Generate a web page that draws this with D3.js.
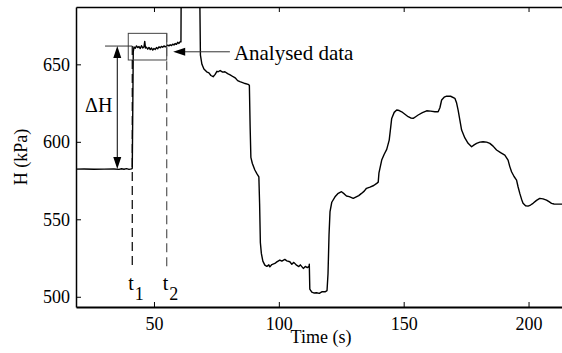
<!DOCTYPE html>
<html>
<head>
<meta charset="utf-8">
<script src="https://cdn.jsdelivr.net/npm/d3@7"></script>
<style>
  body { margin: 0; background: #fff; }
  svg, svg text { font-family: "Liberation Serif", "Times New Roman", serif; }
</style>
</head>
<body>
<svg id="chart"></svg>
<script>
const time = [18.8, 22, 26, 30, 34, 36, 37, 38, 39, 40, 41.0, 41.3, 41.5, 41.7,
  42.0, 42.5, 43.0, 43.5, 44.0, 44.5, 45.0, 45.5, 46.0, 46.3, 46.6, 47.0, 47.5, 48.0, 48.5, 49.0, 49.5,
  50.0, 50.5, 51.0, 51.5, 52.0, 52.5, 53.0, 53.5, 54.0, 54.5, 55.0, 55.5, 56.0, 56.5, 57.0, 57.5,
  58.0, 58.5, 59.0, 59.5, 60.0, 60.5, 60.8, 60.9, 61.5, 67.5, 68.3, 68.6, 69.2, 70.0,
  71.1, 72.0, 72.8, 73.7, 74.5, 75.2, 75.7, 76.5, 77.5, 78.4, 79.5, 80.5, 81.7, 82.5, 83.5, 84.4,
  85.5, 86.5, 87.7, 88.2, 88.5, 88.8, 89.4, 90.4, 91.2, 92.0, 92.3, 92.6, 93.0, 93.6, 94.4, 95.2,
  96.0, 96.4, 97.2, 98.4, 99.2, 100.4, 101.2, 102.4, 103.2, 104.4, 105.2, 106.0, 107.1, 108.0,
  108.6, 109.8, 110.6, 111.4, 112.1, 112.2, 112.4, 113.2, 114.2, 115.1, 116.2, 117.2, 118.5,
  119.3, 119.7, 120.1, 120.5, 121.2, 122.5, 123.6, 125.1, 126.2, 127.1, 128.2, 129.8, 131.0,
  132.0, 133.1, 134.2, 135.1, 136.5, 138.0, 139.2, 139.8, 140.1, 141.2, 142.2, 143.2, 144.2,
  144.7, 145.2, 146.2, 147.2, 148.2, 149.2, 150.5, 151.8, 152.8, 153.8, 154.8, 155.8, 157.5,
  159.2, 160.8, 162.5, 163.8, 164.5, 165.2, 166.2, 167.2, 168.8, 170.5, 171.2, 171.8, 172.5,
  173.2, 174.5, 175.8, 177.2, 178.2, 179.2, 180.5, 181.8, 183.2, 184.5, 185.8, 187.2, 188.8,
  190.5, 191.8, 192.5, 193.2, 194.2, 195.2, 195.8, 196.5, 197.2, 197.8, 198.8, 199.8, 200.8,
  201.8, 203.2, 204.5, 205.8, 207.2, 208.2, 209.2, 210.2, 211.2, 213.4]
const pressure = [582.4, 582.5, 582.3, 582.4, 582.5, 582.2, 582.6, 582.3, 582.7, 582.2, 582.5, 583, 620, 658,
  661.2, 660.4, 661.9, 660.8, 661.5, 660.2, 662.0, 660.6, 661.3, 664.8, 660.5, 661.0, 659.8, 660.9, 659.5, 660.5, 659.2,
  660.2, 659.6, 660.8, 660.1, 661.3, 660.7, 661.6, 661.0, 661.9, 661.3, 661.8, 662.4, 661.9, 662.6, 662.1, 663.0,
  662.5, 663.4, 662.9, 664.2, 663.5, 664.6, 664.5, 700, 720, 720, 700, 656, 650, 647,
  645.2, 644.5, 642.8, 642.0, 643.5, 645.5, 645.2, 646.0, 645.0, 645.2, 644.0, 643.2, 642.0, 641.3, 639.5, 638.8,
  638.2, 637.6, 637.1, 636.5, 610, 590, 586, 581.8, 579.5, 577.4, 560, 535, 528, 523, 520.4, 519.6,
  520.6, 519.3, 520.8, 521.5, 522.5, 523.7, 523.0, 524.1, 523.2, 522.6, 521.0, 522.2, 520.4, 519.5,
  520.6, 518.3, 519.6, 518.8, 519.6, 521, 505, 503.0, 502.4, 502.6, 502.2, 503.2, 503.2,
  504, 515, 540, 555, 561, 564.5, 566.5, 567.8, 566.4, 565.0, 564.6, 563.5, 564.5,
  565.3, 566.7, 568.2, 570.0, 570.8, 571.8, 573.2, 574, 580, 588.2, 592, 595.1, 601.1,
  608, 615.1, 619, 620.5, 620.2, 619.4, 617.8, 616.2, 615.4, 615.1, 616.2, 617.3, 618.8,
  620.0, 619.8, 619.4, 619.4, 622, 627.0, 628.8, 629.5, 629.4, 628.1, 625, 620.5, 614,
  607.6, 602.5, 599.0, 596.8, 598, 599.0, 599.8, 600.0, 599.8, 599.0, 597.2, 594.7, 593,
  591.4, 588.2, 584, 580.7, 577.6, 575.3, 571, 566.7, 563, 560.3, 558.7, 558.5, 559.2,
  560.3, 562.2, 563.5, 563.2, 562.4, 561.4, 560.3, 559.9, 559.8, 559.8]

const xTicks = [50, 100, 150, 200]
const yTicks = [500, 550, 600, 650]

// Annotation values in data units
const boxTime = [39.7, 55.1]
const boxH = [652.8, 670]
const markTimes = [41.3, 55.1]
const markLabels = ["1", "2"]
const deltaTime = 35.3
const deltaH = [582.4, 661.8]
const refLineTime = [30.4, 41.3]
const arrowTime = [57.7, 80.4]
const arrowH = 658.1

const width = 562
const height = 353
const serif = "'Liberation Serif', 'Times New Roman', serif"

const svg = d3.select("#chart")
  .attr("width", width)
  .attr("height", height)

const x = d3.scaleLinear()
  .domain([18.77, 213.4])
  .range([76, 562])

const y = d3.scaleLinear()
  .domain([493.4, 687])
  .range([307, 7])

// Clip the trace to the plot area (spike goes off scale)
svg.append("clipPath")
  .attr("id", "plot-clip")
  .append("rect")
  .attr("x", 76).attr("y", 7)
  .attr("width", 562 - 76).attr("height", 300)

const data = time.map((t, i) => [t, pressure[i]])

svg.append("path")
  .datum(data)
  .attr("clip-path", "url(#plot-clip)")
  .attr("fill", "none")
  .attr("stroke", "#000")
  .attr("stroke-width", 1.4)
  .attr("stroke-linejoin", "round")
  .attr("d", d3.line().x(d => x(d[0])).y(d => y(d[1])))

// Axes
const styleAxis = (g, w) => {
  g.attr("font-family", null).attr("font-size", null)
  g.select(".domain").attr("stroke", "#000").attr("stroke-width", w)
  g.selectAll(".tick line").attr("stroke", "#000")
  g.selectAll(".tick text")
    .attr("fill", "#000")
    .style("font-size", "18px")
    .style("font-family", serif)
}

svg.append("g")
  .attr("transform", "translate(0, 307)")
  .call(d3.axisBottom(x).tickValues(xTicks).tickSizeInner(-5).tickSizeOuter(0).tickPadding(10))
  .call(g => styleAxis(g, 2.2))

svg.append("g")
  .attr("transform", "translate(0, 7)")
  .call(d3.axisTop(x).tickValues(xTicks).tickSizeInner(-5).tickSizeOuter(0).tickFormat(""))
  .call(g => styleAxis(g, 1.5))

svg.append("g")
  .attr("transform", "translate(76, 0)")
  .call(d3.axisLeft(y).tickValues(yTicks).tickSizeInner(-5).tickSizeOuter(0).tickPadding(6))
  .call(g => styleAxis(g, 1.5))

// Axis titles
svg.append("text")
  .attr("x", 321)
  .attr("y", 343)
  .attr("text-anchor", "middle")
  .style("font-size", "18px")
  .style("font-family", serif)
  .text("Time (s)")

svg.append("text")
  .attr("transform", "translate(27, 157) rotate(-90)")
  .attr("text-anchor", "middle")
  .style("font-size", "18px")
  .style("font-family", serif)
  .text("H (kPa)")

// Analysed data window
svg.append("rect")
  .attr("x", x(boxTime[0]))
  .attr("y", y(boxH[1]))
  .attr("width", x(boxTime[1]) - x(boxTime[0]))
  .attr("height", y(boxH[0]) - y(boxH[1]))
  .attr("fill", "none")
  .attr("stroke", "#444")
  .attr("stroke-width", 1)

// t1 / t2 dashed markers
svg.selectAll(".mark")
  .data(markTimes)
  .join("line")
  .attr("x1", d => x(d)).attr("x2", d => x(d))
  .attr("y1", (d, i) => i === 0 ? y(deltaH[1]) : y(boxH[1]))
  .attr("y2", y(519))
  .attr("stroke", (d, i) => i === 0 ? "#000" : "#555")
  .attr("stroke-width", 1.2)
  .attr("stroke-dasharray", "9,5")

const labels = svg.selectAll(".tlabel")
  .data(markTimes)
  .join("text")
  .attr("x", d => x(d) - 4)
  .attr("y", y(504.3))
  .style("font-size", "20px")
  .style("font-family", serif)

labels.append("tspan").text("t")
labels.append("tspan")
  .style("font-size", "18px")
  .attr("dy", 10)
  .attr("dx", 1)
  .text((d, i) => markLabels[i])

// Delta H reference line and double arrow
svg.append("line")
  .attr("x1", x(refLineTime[0])).attr("x2", x(refLineTime[1]))
  .attr("y1", y(deltaH[1])).attr("y2", y(deltaH[1]))
  .attr("stroke", "#333")
  .attr("stroke-width", 1)

svg.append("line")
  .attr("x1", x(deltaTime)).attr("x2", x(deltaTime))
  .attr("y1", y(deltaH[1]) + 10).attr("y2", y(deltaH[0]) - 10)
  .attr("stroke", "#000")
  .attr("stroke-width", 1)

const ax = x(deltaTime)
svg.append("path")
  .attr("d", `M${ax},${y(deltaH[1])} l-4,12 h8 z`)
  .attr("fill", "#000")
svg.append("path")
  .attr("d", `M${ax},${y(deltaH[0])} l-4,-12 h8 z`)
  .attr("fill", "#000")

svg.append("text")
  .attr("x", x(22.4))
  .attr("y", y(619.2))
  .style("font-size", "20px")
  .style("font-family", serif)
  .text("ΔH")

// Analysed data pointer
const px = x(arrowTime[0])
const py = y(arrowH)
svg.append("line")
  .attr("x1", px + 10).attr("x2", x(arrowTime[1]))
  .attr("y1", py).attr("y2", py)
  .attr("stroke", "#333")
  .attr("stroke-width", 1)
svg.append("path")
  .attr("d", `M${px},${py} l12,-4 v8 z`)
  .attr("fill", "#000")

svg.append("text")
  .attr("x", x(82))
  .attr("y", 60)
  .style("font-size", "21px")
  .style("font-family", serif)
  .text("Analysed data")
</script>
</body>
</html>
